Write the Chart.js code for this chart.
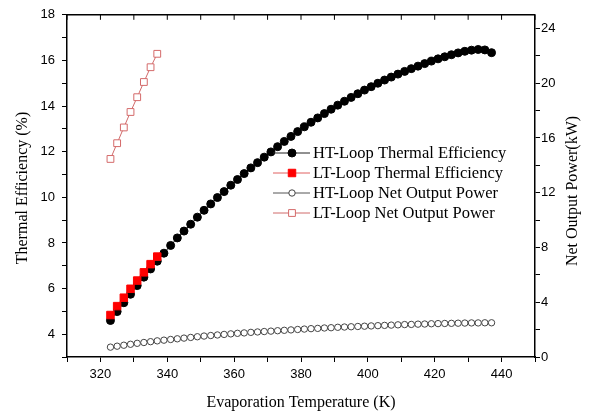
<!DOCTYPE html>
<html lang="en">
<head>
  <meta charset="UTF-8" />
  <title>Thermal Efficiency and Net Output Power</title>
  <script src="https://cdn.jsdelivr.net/npm/chart.js"></script>
  <style>
    html, body { margin: 0; padding: 0; background: #fff; }
    #wrap { width: 590px; height: 415px; }
  </style>
</head>
<body>
  <div id="wrap"><canvas id="chart" width="590" height="415"></canvas></div>
  <script>
    // evaporation temperatures (K)
    const tempHT = [323, 325, 327, 329, 331, 333, 335, 337, 339, 341, 343, 345, 347, 349, 351, 353, 355, 357, 359, 361,
      363, 365, 367, 369, 371, 373, 375, 377, 379, 381, 383, 385, 387, 389, 391, 393, 395, 397, 399, 401,
      403, 405, 407, 409, 411, 413, 415, 417, 419, 421, 423, 425, 427, 429, 431, 433, 435, 437];
    const tempLT = [323, 325, 327, 329, 331, 333, 335, 337];

    // thermal efficiency (%)
    const effHT = [4.60, 4.99, 5.38, 5.75, 6.13, 6.50, 6.86, 7.20, 7.55, 7.89, 8.22, 8.52, 8.82, 9.13, 9.43, 9.71, 9.99, 10.25, 10.53, 10.78,
      11.04, 11.29, 11.52, 11.76, 11.99, 12.22, 12.45, 12.67, 12.88, 13.09, 13.29, 13.48, 13.67, 13.86, 14.04, 14.21, 14.38, 14.54, 14.70, 14.85,
      15.00, 15.14, 15.27, 15.40, 15.52, 15.64, 15.75, 15.86, 15.97, 16.07, 16.16, 16.25, 16.33, 16.40, 16.45, 16.48, 16.46, 16.34];
    const effLT = [4.84, 5.23, 5.60, 5.99, 6.35, 6.71, 7.07, 7.40];

    // net output power (kW)
    const powHT = [0.72, 0.79, 0.86, 0.93, 1.00, 1.06, 1.12, 1.18, 1.23, 1.28, 1.33, 1.38, 1.43, 1.48, 1.53, 1.57, 1.61, 1.65, 1.69, 1.73,
      1.76, 1.80, 1.83, 1.86, 1.89, 1.92, 1.95, 1.98, 2.01, 2.04, 2.07, 2.09, 2.12, 2.14, 2.17, 2.19, 2.21, 2.23, 2.25, 2.27,
      2.29, 2.31, 2.33, 2.35, 2.37, 2.38, 2.40, 2.41, 2.43, 2.44, 2.45, 2.46, 2.47, 2.48, 2.49, 2.49, 2.50, 2.50];
    const powLT = [14.47, 15.62, 16.77, 17.90, 18.98, 20.09, 21.17, 22.15];

    const xLabel = 'Evaporation Temperature (K)';
    const yLabel = 'Thermal Efficiency (%)';
    const y1Label = 'Net Output Power(kW)';

    const pts = (xs, ys) => xs.map((x, i) => ({ x: x, y: ys[i] }));

    const serif = '"Liberation Serif", "Times New Roman", serif';
    const sans = '"Liberation Sans", Arial, sans-serif';

    const series = [
      { label: 'HT-Loop Thermal Efficiency', data: pts(tempHT, effHT), yAxisID: 'y',
        line: '#222', style: 'circle', radius: 4, fill: '#000', stroke: '#000', order: 4 },
      { label: 'LT-Loop Thermal Efficiency', data: pts(tempLT, effLT), yAxisID: 'y',
        line: '#e06060', style: 'rect', radius: 5.3, fill: '#ff0000', stroke: '#ff0000', order: 3 },
      { label: 'HT-Loop Net Output Power', data: pts(tempHT, powHT), yAxisID: 'y1',
        line: '#555', style: 'circle', radius: 3.2, fill: '#fff', stroke: '#444', order: 2 },
      { label: 'LT-Loop Net Output Power', data: pts(tempLT, powLT), yAxisID: 'y1',
        line: '#d06a6a', style: 'rect', radius: 4.8, fill: '#fff', stroke: '#d46a6a', order: 1 }
    ];

    // frame top line, inward top ticks, titles and legend
    const decor = {
      id: 'decor',
      afterDraw(chart) {
        const c = chart.ctx, a = chart.chartArea, xs = chart.scales.x;
        c.save();
        c.strokeStyle = '#000';
        c.lineWidth = 1.5;
        c.beginPath();
        c.moveTo(a.left, a.top);
        c.lineTo(a.right, a.top);
        c.stroke();
        c.lineWidth = 1;
        xs.ticks.forEach(t => {
          const px = xs.getPixelForValue(t.value);
          c.beginPath();
          c.moveTo(px, a.top);
          c.lineTo(px, a.top + 5);
          c.stroke();
        });

        c.fillStyle = '#000';
        c.font = '16px ' + serif;
        c.textAlign = 'center';
        c.textBaseline = 'middle';
        c.fillText(xLabel, (a.left + a.right) / 2, 403);
        c.save();
        c.translate(23, 188);
        c.rotate(-Math.PI / 2);
        c.fillText(yLabel, 0, 0);
        c.restore();
        c.save();
        c.translate(573, 191);
        c.rotate(-Math.PI / 2);
        c.fillText(y1Label, 0, 0);
        c.restore();

        // legend
        const lx0 = 273, lx1 = 310, mx = 292, tx = 313;
        series.forEach((s, i) => {
          const ly = 153 + i * 20;
          c.strokeStyle = s.line;
          c.lineWidth = 1;
          c.beginPath();
          c.moveTo(lx0, ly);
          c.lineTo(lx1, ly);
          c.stroke();
          c.fillStyle = s.fill;
          c.strokeStyle = s.stroke;
          c.beginPath();
          if (s.style === 'circle') {
            c.arc(mx, ly, s.radius, 0, Math.PI * 2);
          } else {
            const h = s.radius * Math.SQRT1_2;
            c.rect(mx - h, ly - h, 2 * h, 2 * h);
          }
          c.fill();
          c.stroke();
          c.fillStyle = '#000';
          c.font = '16.5px ' + serif;
          c.textAlign = 'left';
          c.textBaseline = 'middle';
          c.fillText(s.label, tx, ly + 1);
        });
        c.restore();
      }
    };

    new Chart(document.getElementById('chart'), {
      type: 'line',
      data: {
        datasets: series.map(s => ({
          label: s.label,
          data: s.data,
          yAxisID: s.yAxisID,
          order: s.order,
          borderColor: s.line,
          borderWidth: 1,
          pointStyle: s.style,
          pointRadius: s.radius,
          pointBackgroundColor: s.fill,
          pointBorderColor: s.stroke,
          pointBorderWidth: 1,
          tension: 0,
          fill: false
        }))
      },
      options: {
        responsive: false,
        animation: false,
        events: [],
        layout: { padding: { top: 11, left: 0, right: 0, bottom: 0 } },
        plugins: { legend: { display: false }, tooltip: { enabled: false } },
        scales: {
          x: {
            type: 'linear', min: 310, max: 450,
            afterFit(s) { s.height = 58; },
            border: { display: true, color: '#000', width: 1.5 },
            grid: { drawOnChartArea: false, drawTicks: true, tickLength: 5, color: '#000' },
            ticks: {
              stepSize: 10, autoSkip: false, maxRotation: 0, padding: 5, color: '#000',
              font: { family: sans, size: 13 },
              callback: v => (v % 20 === 0 && v > 310 && v < 450) ? v : ''
            }
          },
          y: {
            type: 'linear', position: 'left', min: 3, max: 18,
            afterFit(s) { s.width = 67; },
            border: { display: true, color: '#000', width: 1.5 },
            grid: { drawOnChartArea: false, drawTicks: true, tickLength: 5, color: '#000' },
            ticks: {
              stepSize: 1, autoSkip: false, padding: 7, color: '#000',
              font: { family: sans, size: 13 },
              callback: v => (v % 2 === 0) ? v : ''
            }
          },
          y1: {
            type: 'linear', position: 'right', min: 0, max: 25,
            afterFit(s) { s.width = 55; },
            border: { display: true, color: '#000', width: 1.5 },
            grid: { drawOnChartArea: false, drawTicks: true, tickLength: 5, color: '#000' },
            ticks: {
              stepSize: 2, autoSkip: false, includeBounds: false, padding: 1, color: '#000',
              font: { family: sans, size: 13 },
              callback: v => (v % 4 === 0) ? v : ''
            }
          }
        }
      },
      plugins: [decor]
    });
  </script>
</body>
</html>
